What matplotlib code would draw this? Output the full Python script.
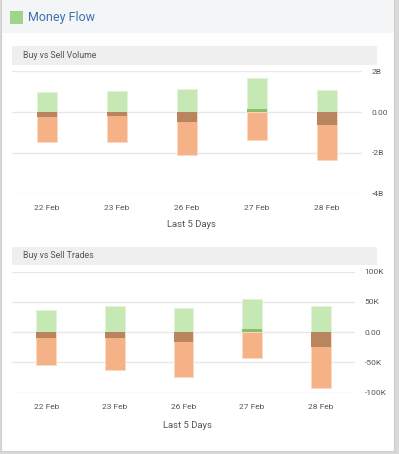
import matplotlib
matplotlib.use("Agg")
import matplotlib.pyplot as plt
from matplotlib.patches import Rectangle
from matplotlib.ticker import FuncFormatter

plt.rcParams['font.family'] = ['Roboto', 'DejaVu Sans']

W, H = 399, 454

days = ["22 Feb", "23 Feb", "26 Feb", "27 Feb", "28 Feb"]

# volume in billions
buy_volume = [1.00, 1.04, 1.14, 1.69, 1.09]
sell_volume = [1.48, 1.48, 2.12, 1.37, 2.36]
net_volume = [-0.24, -0.21, -0.47, 0.16, -0.63]

# trades in thousands
buy_trades = [37.4, 44.0, 40.7, 55.0, 43.0]
sell_trades = [54.0, 63.0, 74.0, 43.0, 92.7]
net_trades = [-8.9, -8.9, -16.6, 5.5, -24.3]

GREEN = "#c6e8b4"
ORANGE = "#f5b286"
BROWN = "#b9855f"
DKGREEN = "#8bbd6d"
TXT = "#555555"


def fig_box(x0, y0, x1, y1):
    # pixel box (top-left origin) -> figure fraction rect
    return [x0 / W, 1 - y1 / H, (x1 - x0) / W, (y1 - y0) / H]


fig = plt.figure(figsize=(W / 100, H / 100), dpi=100)
fig.patch.set_facecolor("#d9d9d9")

# card background
bg = fig.add_axes([0, 0, 1, 1])
bg.set_xlim(0, W)
bg.set_ylim(H, 0)
bg.axis("off")
bg.add_patch(Rectangle((1, 0), 393, 451, facecolor="white", edgecolor="#cfcfcf", lw=0.8))
bg.add_patch(Rectangle((1.5, 0), 392, 33, facecolor="#f4f5f7", edgecolor="none"))
bg.add_patch(Rectangle((10, 11), 13, 13, facecolor="#9dd58b", edgecolor="none"))
bg.text(28, 17.5, "Money Flow", fontsize=9, color="#3f6fb2", va="center", ha="left")

# section header bars
for y0, y1, title in [(46, 65, "Buy vs Sell Volume"), (247, 265, "Buy vs Sell Trades")]:
    bg.add_patch(Rectangle((12, y0), 365, y1 - y0, facecolor="#efefef", edgecolor="none"))
    t = bg.text(23, (y0 + y1) / 2, title, fontsize=6.3, color=TXT, va="center", ha="left")


def vol_fmt(v, pos):
    if abs(v) < 1e-9:
        return "0.00"
    return f"{int(round(v))}B"


def trade_fmt(v, pos):
    if abs(v) < 1e-9:
        return "0.00"
    return f"{int(round(v))}K"


def draw(box, buy, sell, net, ylim, yticks, fmt, xlabel_y):
    ax = fig.add_axes(fig_box(*box))
    x = list(range(len(days)))
    w = 0.29
    ax.bar(x, buy, width=w, color=GREEN, edgecolor="#e3f3da", lw=0.6, zorder=2)
    ax.bar(x, [-s for s in sell], width=w, color=ORANGE, edgecolor="#fbd9c3", lw=0.6, zorder=2)
    ax.bar(x, net, width=w, color=[DKGREEN if n > 0 else BROWN for n in net],
           edgecolor="none", zorder=3)
    ax.set_xlim(-0.5, 4.5)
    ax.set_ylim(*ylim)
    ax.set_yticks(yticks)
    ax.yaxis.set_major_formatter(FuncFormatter(fmt))
    ax.grid(axis="y", color="#e8e8e8", lw=1, zorder=0)
    for s in ax.spines.values():
        s.set_visible(False)
    ax.yaxis.tick_right()
    ax.tick_params(axis="y", length=0, pad=7, labelsize=6, labelcolor=TXT)
    ax.set_xticks(x)
    ax.set_xticklabels(days)
    ax.tick_params(axis="x", length=0, pad=8, labelsize=6, labelcolor=TXT)
    bg.text((box[0] + box[2]) / 2 + 4, xlabel_y, "Last 5 Days", fontsize=6.8,
            color=TXT, ha="center", va="center")
    return ax


draw((12, 71.3, 362, 193.7), buy_volume, sell_volume, net_volume,
     (-4, 2), [-4, -2, 0, 2], vol_fmt, 224.7)
draw((12, 271.7, 355, 392.7), buy_trades, sell_trades, net_trades,
     (-100, 100), [-100, -50, 0, 50, 100], trade_fmt, 425.5)

fig.savefig("out.png", dpi=100, facecolor=fig.get_facecolor())
